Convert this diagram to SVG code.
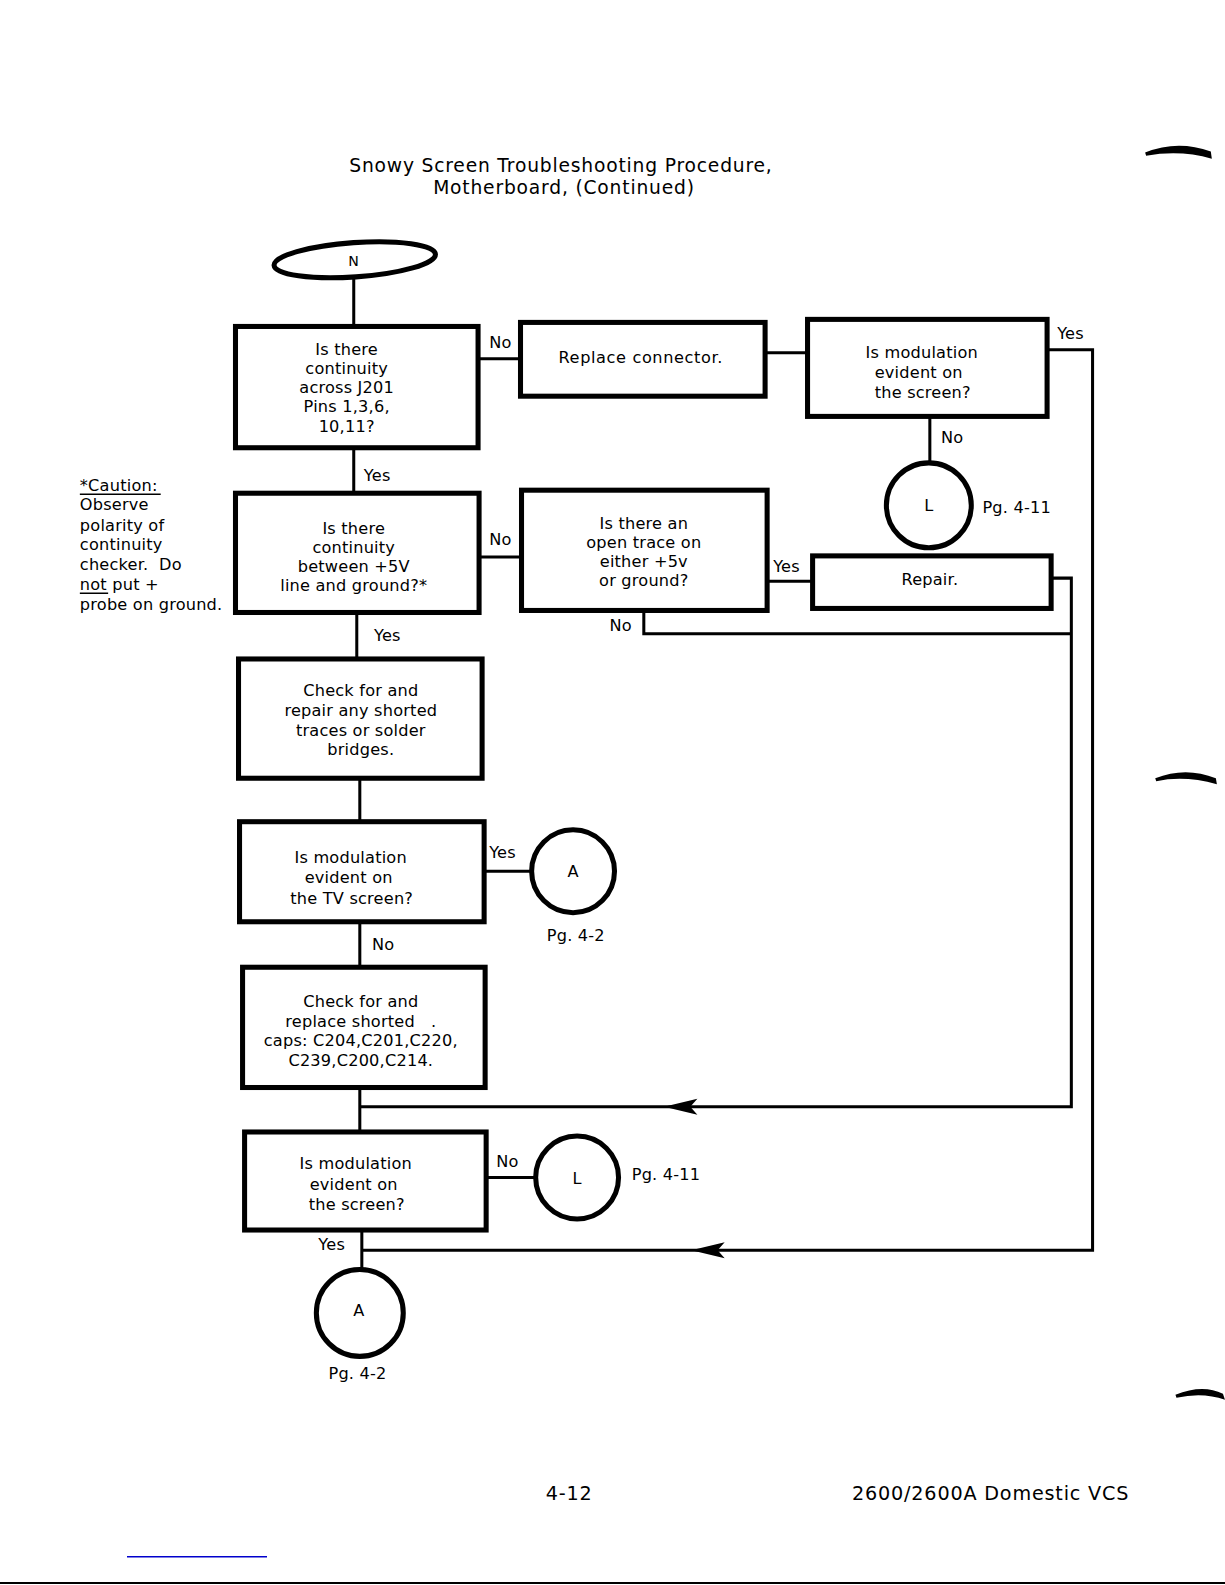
<svg xmlns="http://www.w3.org/2000/svg" width="1225" height="1585" viewBox="0 0 1225 1585">
<style>
.box{fill:#fff;stroke:#000;stroke-width:5}
.circ{fill:#fff;stroke:#000;stroke-width:5}
.ln{fill:none;stroke:#000;stroke-width:3}
text{font-family:"DejaVu Sans","Open Sans",sans-serif;fill:#000}
.t{font-size:16px;text-anchor:middle;letter-spacing:0.2px}
.lb{font-size:16px;letter-spacing:0.2px}
.ttl{font-size:18.5px;text-anchor:middle;letter-spacing:0.8px}
.ft{font-size:19px;letter-spacing:0.8px}
</style>
<rect width="1225" height="1585" fill="#fff"/>
<g transform="scale(1.0107)">
<g id="connectors">
<path class="ln" d="M350,276V323"/>
<path class="ln" d="M473,355H515"/>
<path class="ln" d="M757,349H799"/>
<path class="ln" d="M1036,346H1081V1237H358"/>
<path class="ln" d="M920,412V458"/>
<path class="ln" d="M350,443V488"/>
<path class="ln" d="M474,551H516"/>
<path class="ln" d="M759,575H804"/>
<path class="ln" d="M1040,572H1060V1095H356"/>
<path class="ln" d="M637,604V627H1060"/>
<path class="ln" d="M353,606V652"/>
<path class="ln" d="M356,770V813"/>
<path class="ln" d="M479,862H527"/>
<path class="ln" d="M356,912V957"/>
<path class="ln" d="M356,1076V1120"/>
<path class="ln" d="M481,1165H530"/>
<path class="ln" d="M358,1217V1257"/>
<polygon points="657,1095 690,1087 683,1095 690,1103" fill="#000"/>
<polygon points="684,1237 717,1229 710,1237 717,1245" fill="#000"/>
</g>
<g id="nodeN">
<ellipse cx="351" cy="257" rx="80" ry="17" transform="rotate(-4 351 257)" class="circ"/>
<text x="350" y="263" class="t" style="font-size:14px">N</text>
</g>
<g id="box1">
<rect class="box" x="233" y="323" width="240" height="120"/>
<text class="t"><tspan x="343" y="351">Is there</tspan><tspan x="343" y="370">continuity</tspan><tspan x="343" y="389">across J201</tspan><tspan x="343" y="408">Pins 1,3,6,</tspan><tspan x="343" y="427">10,11?</tspan></text>
</g>
<g id="box2">
<rect class="box" x="515" y="319" width="242" height="73"/>
<text class="t" x="634" y="359" style="letter-spacing:0.6px">Replace connector.</text>
</g>
<g id="box3">
<rect class="box" x="799" y="316" width="237" height="96"/>
<text class="t"><tspan x="912" y="354">Is modulation</tspan><tspan x="909" y="374">evident on</tspan><tspan x="913" y="394">the screen?</tspan></text>
</g>
<g id="box4">
<rect class="box" x="233" y="488" width="241" height="118"/>
<text class="t"><tspan x="350" y="528">Is there</tspan><tspan x="350" y="547">continuity</tspan><tspan x="350" y="566">between +5V</tspan><tspan x="350" y="585">line and ground?*</tspan></text>
</g>
<g id="box5">
<rect class="box" x="516" y="485" width="243" height="119"/>
<text class="t"><tspan x="637" y="523">Is there an</tspan><tspan x="637" y="542">open trace on</tspan><tspan x="637" y="561">either +5v</tspan><tspan x="637" y="580">or ground?</tspan></text>
</g>
<g id="box6">
<rect class="box" x="804" y="550" width="236" height="52"/>
<text class="t" x="920" y="579">Repair.</text>
</g>
<g id="box7">
<rect class="box" x="236" y="652" width="241" height="118"/>
<text class="t"><tspan x="357" y="689">Check for and</tspan><tspan x="357" y="708">repair any shorted</tspan><tspan x="357" y="728">traces or solder</tspan><tspan x="357" y="747">bridges.</tspan></text>
</g>
<g id="box8">
<rect class="box" x="237" y="813" width="242" height="99"/>
<text class="t"><tspan x="347" y="854">Is modulation</tspan><tspan x="345" y="874">evident on</tspan><tspan x="348" y="894">the TV screen?</tspan></text>
</g>
<g id="box9">
<rect class="box" x="240" y="957" width="240" height="119"/>
<text class="t"><tspan x="357" y="996">Check for and</tspan><tspan x="357" y="1016">replace shorted &#160; .</tspan><tspan x="357" y="1035">caps: C204,C201,C220,</tspan><tspan x="357" y="1055">C239,C200,C214.</tspan></text>
</g>
<g id="box10">
<rect class="box" x="242" y="1120" width="239" height="97"/>
<text class="t"><tspan x="352" y="1157">Is modulation</tspan><tspan x="350" y="1177">evident on</tspan><tspan x="353" y="1197">the screen?</tspan></text>
</g>
<g id="circleL1">
<circle class="circ" cx="919" cy="500" r="42"/>
<text class="t" x="919" y="506">L</text>
</g>
<g id="circleA1">
<circle class="circ" cx="567" cy="862" r="41"/>
<text class="t" x="567" y="868">A</text>
</g>
<g id="circleL2">
<circle class="circ" cx="571" cy="1165" r="41"/>
<text class="t" x="571" y="1171">L</text>
</g>
<g id="circleA2">
<circle class="circ" cx="356" cy="1299" r="43"/>
<text class="t" x="355" y="1302">A</text>
</g>
<g id="labels">
<text class="lb" x="484" y="344">No</text>
<text class="lb" x="1046" y="335">Yes</text>
<text class="lb" x="931" y="438">No</text>
<text class="lb" x="972" y="508">Pg. 4-11</text>
<text class="lb" x="360" y="476">Yes</text>
<text class="lb" x="484" y="539">No</text>
<text class="lb" x="765" y="566">Yes</text>
<text class="lb" x="603" y="624">No</text>
<text class="lb" x="370" y="634">Yes</text>
<text class="lb" x="484" y="849">Yes</text>
<text class="lb" x="541" y="931">Pg. 4-2</text>
<text class="lb" x="368" y="940">No</text>
<text class="lb" x="491" y="1155">No</text>
<text class="lb" x="625" y="1168">Pg. 4-11</text>
<text class="lb" x="315" y="1237">Yes</text>
<text class="lb" x="325" y="1364">Pg. 4-2</text>
</g>
<g id="caution">
<text class="lb"><tspan x="79" y="486">*Caution:</tspan><tspan x="79" y="505">Observe</tspan><tspan x="79" y="525">polarity of</tspan><tspan x="79" y="544">continuity</tspan><tspan x="79" y="564">checker.&#160; Do</tspan><tspan x="79" y="584">not put +</tspan><tspan x="79" y="604">probe on ground.</tspan></text>
<path d="M79,489H159M79,587H107" stroke="#000" stroke-width="1.5"/>
</g>
<g id="title">
<text class="ttl"><tspan x="555" y="170">Snowy Screen Troubleshooting Procedure,</tspan><tspan x="558" y="192">Motherboard, (Continued)</tspan></text>
</g>
<g id="footer">
<text class="ft" x="540" y="1484">4-12</text>
<text class="ft" x="843" y="1484">2600/2600A Domestic VCS</text>
</g>
<g id="marks" fill="#000">
<path d="M1133,151 Q1165,138 1198,150 L1199,157 Q1168,148 1134,154 Z"/>
<path d="M1143,770 Q1173,758 1203,770 L1204,776 Q1172,767 1144,773 Z"/>
<path d="M1163,1380 Q1190,1369 1210,1379 L1212,1385 Q1190,1377 1164,1383 Z"/>
</g>
</g>
<rect x="127" y="1556" width="140" height="1.5" fill="#0000cc"/>
<rect x="0" y="1582" width="1225" height="2" fill="#000"/>
</svg>
